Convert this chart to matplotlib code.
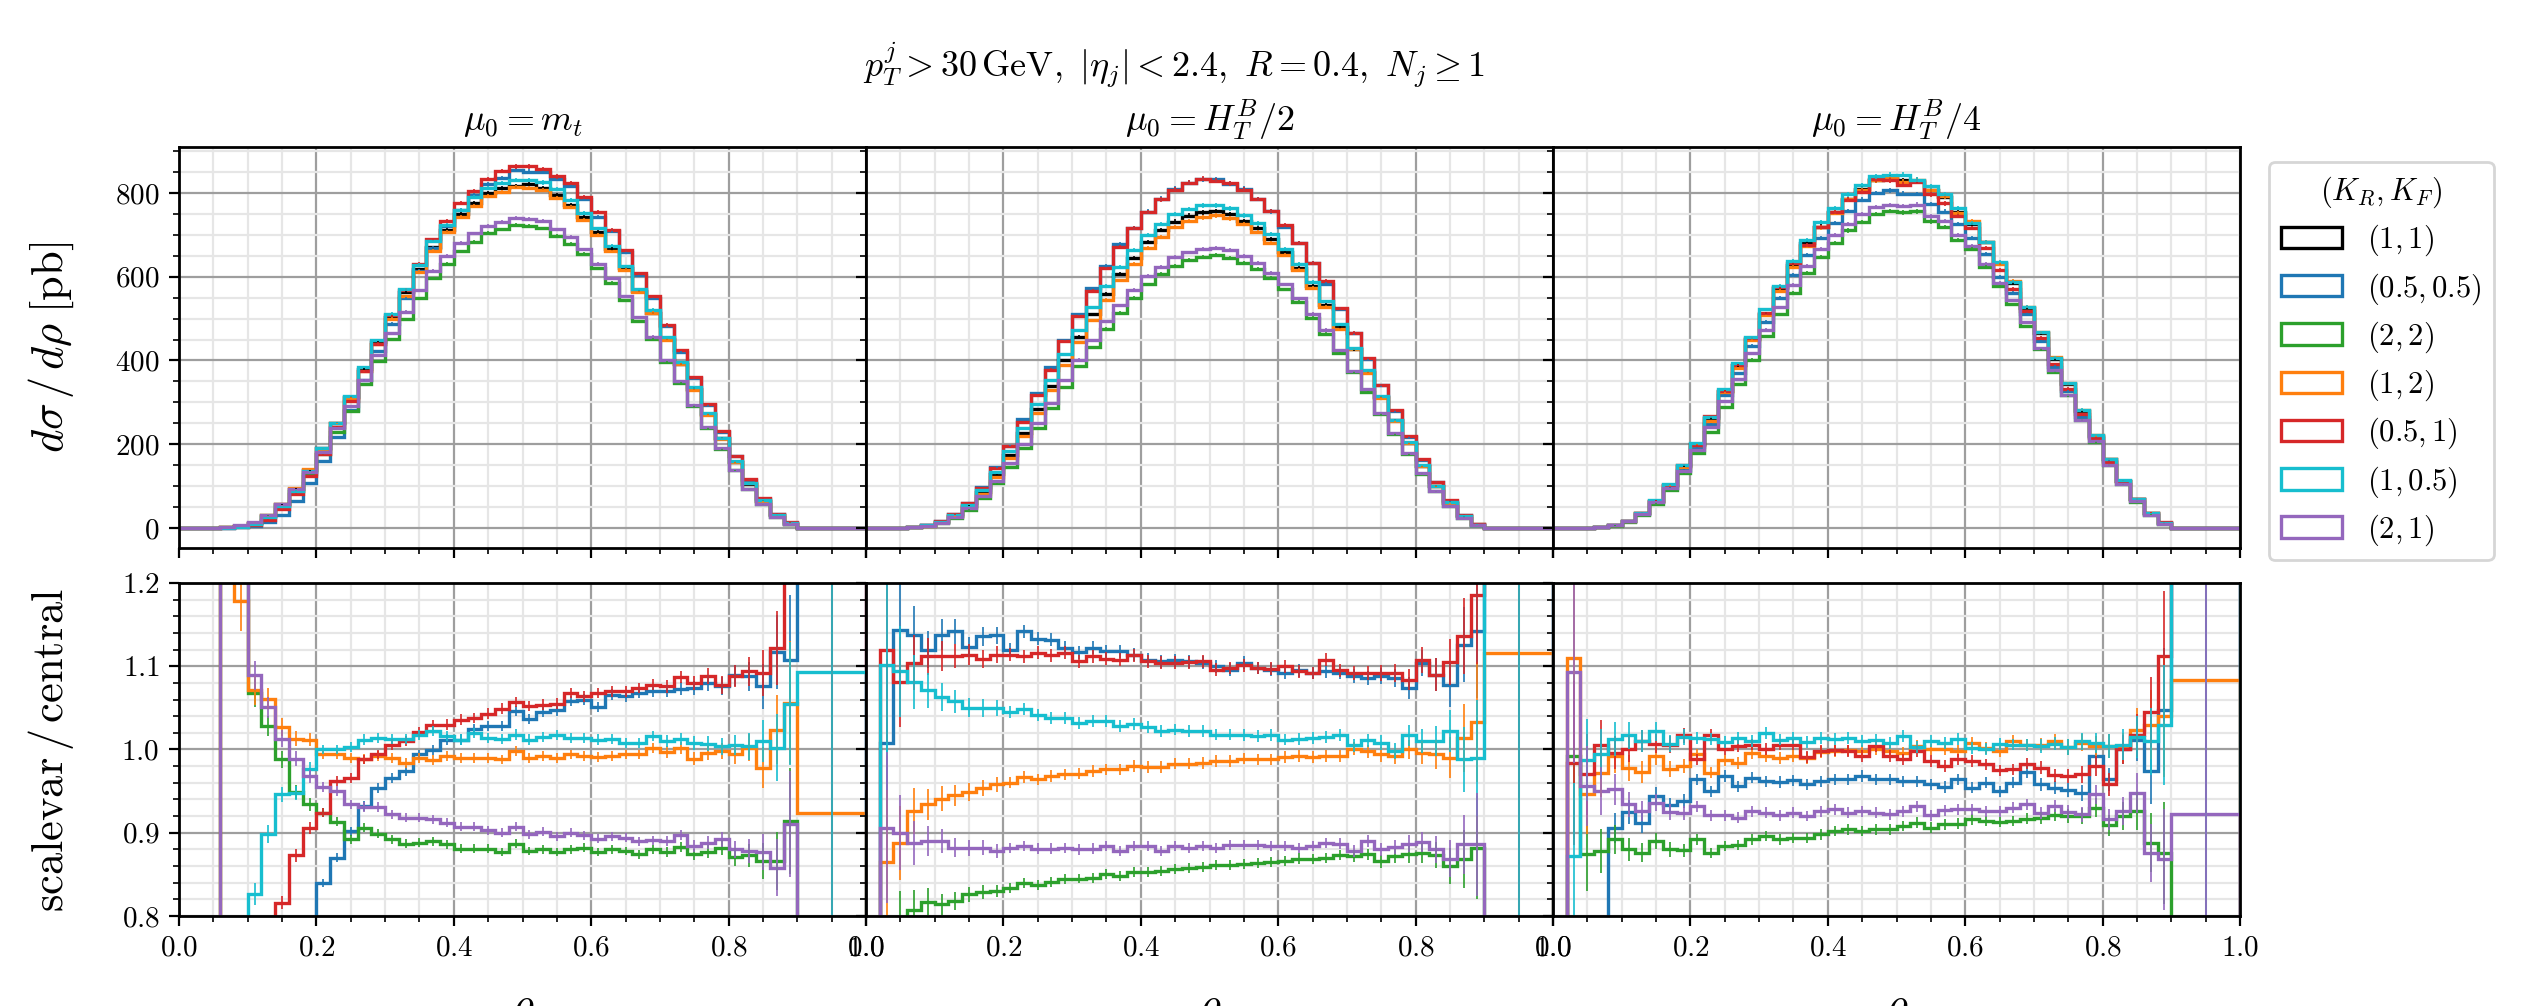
import numpy as np
import matplotlib
matplotlib.use("Agg")
import matplotlib.pyplot as plt
from matplotlib.patches import Patch
from matplotlib.ticker import MultipleLocator

nan = np.nan

# bin edges: 0.02 wide up to 0.9, then one wide last bin
bin_edges = list(np.round(np.arange(0.0, 0.9001, 0.02), 2)) + [1.0]

labels = ["$(1,1)$", "$(0.5,0.5)$", "$(2,2)$", "$(1,2)$", "$(0.5,1)$", "$(1,0.5)$", "$(2,1)$"]
colors = ["black", "#1f77b4", "#2ca02c", "#ff7f0e", "#d62728", "#17becf", "#9467bd"]
titles = [r"$\mu_0 = m_t$", r"$\mu_0 = H_T^B/2$", r"$\mu_0 = H_T^B/4$"]

# central (1,1) prediction, d sigma / d rho [pb]
central_mt = [0, 0, 0, 1.5, 4, 12, 29, 56, 94, 138, 190, 251, 313, 379, 443, 505, 563, 618, 670, 712,
              750, 776, 800, 813, 817, 821, 813, 796, 772, 742, 707, 666, 620, 566, 513, 451, 391, 333,
              272, 214, 158, 106, 65, 30, 10, 0.1]
central_h2 = [0, 0.3, 0.8, 2.4, 6, 14, 29, 53, 86, 128, 175, 227, 285, 340, 400, 457, 510, 559, 606, 644,
              682, 711, 732, 746, 754, 757, 750, 734, 716, 690, 658, 622, 579, 533, 479, 427, 372, 313,
              258, 202, 148, 100, 60, 28, 8, 0.1]
central_h4 = [0, 0.3, 0.8, 2.4, 6.4, 17, 36, 65, 103, 148, 200, 262, 328, 388, 451, 512, 572, 628, 681, 720,
              755, 786, 810, 830, 837, 830, 829, 808, 791, 754, 727, 682, 632, 585, 526, 465, 404, 344,
              280, 220, 165, 113, 68, 35, 12, 0.1]

# scale variation / central, panel mu0 = m_t
blue_mt = [0, 0, 0, 0.2, 0.3, 0.35, 0.45, 0.55, 0.68, 0.78,
           0.840, 0.870, 0.902, 0.932, 0.954, 0.966, 0.974, 0.994, 0.999, 1.012, 1.012, 1.025, 1.028,
           1.028, 1.046, 1.037, 1.045, 1.047, 1.058, 1.060, 1.051, 1.066, 1.064, 1.068, 1.070, 1.070,
           1.073, 1.074, 1.080, 1.076, 1.089, 1.088, 1.076, 1.117, 1.108, 1.3]
green_mt = [0, 0, 0, 1.6, 1.35,
            1.068, 1.028, 0.988, 0.949, 0.934, 0.924, 0.913, 0.892, 0.906, 0.899, 0.892, 0.887, 0.888,
            0.890, 0.886, 0.881, 0.881, 0.881, 0.877, 0.887, 0.878, 0.880, 0.877, 0.880, 0.882, 0.877,
            0.880, 0.878, 0.874, 0.880, 0.877, 0.883, 0.874, 0.877, 0.882, 0.871, 0.873, 0.866, 0.866,
            0.914, 0.0]
orange_mt = [0, 0, 0, 1.4,
             1.178, 1.071, 1.061, 1.027, 1.013, 1.012, 0.994, 0.995, 0.990, 0.989, 0.992, 0.990, 0.984,
             0.990, 0.987, 0.992, 0.990, 0.990, 0.990, 0.988, 0.998, 0.990, 0.992, 0.990, 0.994, 0.992,
             0.991, 0.992, 0.994, 0.994, 1.002, 0.997, 1.002, 0.989, 0.996, 0.998, 0.994, 1.002, 0.978,
             1.024, 1.056, 0.924]
red_mt = [0, 0, 0, 0.4, 0.5, 0.6, 0.69,
          0.816, 0.873, 0.906, 0.924, 0.962, 0.966, 0.988, 0.994, 1.006, 1.010, 1.021, 1.029, 1.030,
          1.036, 1.038, 1.043, 1.049, 1.057, 1.052, 1.054, 1.055, 1.068, 1.064, 1.068, 1.070, 1.070,
          1.074, 1.078, 1.076, 1.087, 1.080, 1.088, 1.077, 1.088, 1.094, 1.092, 1.122, 1.3, 1.3]
cyan_mt = [0, 0, 0, 0.5, 0.7,
           0.826, 0.899, 0.946, 0.948, 0.977, 1.000, 1.000, 1.003, 1.012, 1.014, 1.013, 1.013, 1.017,
           1.022, 1.016, 1.012, 1.020, 1.014, 1.013, 1.018, 1.012, 1.015, 1.017, 1.014, 1.014, 1.012,
           1.013, 1.008, 1.008, 1.016, 1.010, 1.013, 1.008, 1.007, 1.004, 1.005, 1.004, 1.010, 1.002,
           1.055, 1.093]
purple_mt = [0, 0, 0, 1.7, 1.45,
             1.089, 1.051, 1.013, 0.989, 0.968, 0.955, 0.950, 0.934, 0.931, 0.931, 0.922, 0.918, 0.918,
             0.916, 0.912, 0.907, 0.907, 0.903, 0.900, 0.907, 0.898, 0.901, 0.896, 0.900, 0.897, 0.893,
             0.896, 0.894, 0.890, 0.891, 0.890, 0.897, 0.884, 0.888, 0.892, 0.880, 0.878, 0.877, 0.858,
             0.910, 0.0]

# panel mu0 = H_T^B / 2
blue_h2 = [nan, 1.008, 1.144, 1.138, 1.120, 1.138, 1.142, 1.123, 1.136, 1.137, 1.120, 1.142, 1.133,
           1.132, 1.122, 1.117, 1.122, 1.118, 1.118, 1.114, 1.108, 1.106, 1.107, 1.106, 1.104, 1.100,
           1.096, 1.104, 1.098, 1.096, 1.092, 1.095, 1.092, 1.094, 1.092, 1.088, 1.086, 1.088, 1.086,
           1.074, 1.104, 1.090, 1.078, 1.126, 1.142, 1.3]
green_h2 = [nan, 0.7, 0.79, 0.807, 0.817, 0.814, 0.818, 0.826, 0.829, 0.830, 0.834, 0.840, 0.837, 0.841,
            0.844, 0.845, 0.846, 0.851, 0.848, 0.853, 0.853, 0.854, 0.856, 0.858, 0.859, 0.861, 0.861,
            0.863, 0.864, 0.865, 0.866, 0.869, 0.868, 0.870, 0.873, 0.872, 0.874, 0.866, 0.872, 0.874,
            0.876, 0.873, 0.860, 0.868, 0.882, 0.0]
orange_h2 = [nan, 0.865, 0.888, 0.926, 0.934, 0.941, 0.945, 0.949, 0.954, 0.958, 0.960, 0.967, 0.964,
             0.968, 0.970, 0.971, 0.974, 0.976, 0.976, 0.980, 0.979, 0.979, 0.983, 0.983, 0.984, 0.986,
             0.986, 0.989, 0.988, 0.988, 0.991, 0.992, 0.991, 0.992, 0.992, 1.001, 0.998, 0.994, 0.992,
             1.000, 0.996, 0.994, 0.990, 1.014, 1.033, 1.116]
red_h2 = [nan, 1.120, 1.081, 1.104, 1.112, 1.112, 1.112, 1.114, 1.109, 1.114, 1.114, 1.112, 1.116, 1.113,
          1.116, 1.106, 1.112, 1.109, 1.108, 1.113, 1.106, 1.104, 1.104, 1.105, 1.106, 1.096, 1.098,
          1.101, 1.098, 1.097, 1.100, 1.094, 1.092, 1.108, 1.095, 1.092, 1.092, 1.092, 1.092, 1.084,
          1.108, 1.090, 1.105, 1.136, 1.186, 1.3]
cyan_h2 = [nan, 1.102, 1.094, 1.081, 1.071, 1.063, 1.058, 1.050, 1.050, 1.050, 1.045, 1.049, 1.041,
           1.038, 1.038, 1.032, 1.034, 1.034, 1.028, 1.031, 1.027, 1.022, 1.024, 1.022, 1.022, 1.018,
           1.018, 1.017, 1.016, 1.017, 1.012, 1.013, 1.014, 1.015, 1.017, 1.005, 1.011, 1.008, 0.998,
           1.017, 1.010, 1.010, 1.022, 0.988, 0.990, 1.3]
purple_h2 = [nan, 0.906, 0.900, 0.888, 0.890, 0.890, 0.882, 0.882, 0.882, 0.878, 0.882, 0.884, 0.881,
             0.881, 0.882, 0.880, 0.881, 0.884, 0.878, 0.884, 0.884, 0.878, 0.884, 0.882, 0.884, 0.882,
             0.885, 0.885, 0.885, 0.884, 0.884, 0.882, 0.884, 0.888, 0.887, 0.878, 0.890, 0.880, 0.883,
             0.887, 0.889, 0.880, 0.869, 0.886, 0.886, 0.0]

# panel mu0 = H_T^B / 4
blue_h4 = [nan, 0.5, 0.65, 0.75, 0.906, 0.925, 0.912, 0.944, 0.933, 0.938, 0.964, 0.950, 0.968, 0.956,
           0.966, 0.962, 0.961, 0.963, 0.958, 0.962, 0.964, 0.964, 0.968, 0.964, 0.964, 0.962, 0.962,
           0.958, 0.955, 0.964, 0.954, 0.960, 0.950, 0.960, 0.973, 0.958, 0.954, 0.951, 0.948, 0.992,
           0.964, 1.000, 1.012, 0.974, 1.048, 1.3]
green_h4 = [nan, 0.992, 0.874, 0.878, 0.892, 0.880, 0.876, 0.890, 0.880, 0.879, 0.892, 0.876, 0.884,
            0.885, 0.892, 0.896, 0.892, 0.894, 0.894, 0.898, 0.902, 0.904, 0.902, 0.904, 0.904, 0.908,
            0.912, 0.906, 0.910, 0.911, 0.916, 0.914, 0.913, 0.914, 0.917, 0.918, 0.921, 0.920, 0.920,
            0.930, 0.909, 0.920, 0.926, 0.888, 0.876, 0.0]
orange_h4 = [nan, 1.110, 0.946, 0.972, 0.992, 0.978, 0.973, 0.992, 0.977, 0.980, 0.994, 0.972, 0.987,
             0.984, 0.996, 0.992, 0.990, 0.992, 0.990, 0.997, 0.998, 0.999, 0.998, 1.000, 0.998, 0.996,
             1.004, 1.000, 1.001, 0.998, 1.008, 1.002, 0.998, 1.010, 1.005, 1.006, 1.010, 1.003, 1.008,
             1.004, 1.004, 1.002, 1.024, 1.030, 1.040, 1.084]
red_h4 = [nan, 0.984, 0.970, 1.005, 0.996, 1.001, 1.010, 1.007, 1.006, 1.017, 0.988, 1.017, 1.000, 1.004,
          1.006, 1.001, 1.006, 1.006, 0.991, 0.998, 0.999, 0.998, 0.992, 1.004, 0.992, 0.988, 0.998,
          0.986, 0.980, 0.988, 0.986, 0.982, 0.975, 0.976, 0.983, 0.978, 0.969, 0.968, 0.970, 0.980,
          0.958, 1.000, 1.017, 1.045, 1.112, 1.3]
cyan_h4 = [nan, 0.872, 0.987, 0.995, 1.013, 1.017, 1.010, 1.022, 1.007, 1.015, 1.014, 1.013, 1.009,
           1.014, 1.010, 1.020, 1.012, 1.014, 1.009, 1.014, 1.013, 1.014, 1.010, 1.012, 1.008, 1.016,
           1.003, 1.010, 1.008, 1.013, 1.002, 1.001, 1.007, 1.006, 1.005, 1.004, 1.007, 1.003, 1.010,
           1.008, 1.004, 1.006, 1.015, 1.010, 1.030, 1.3]
purple_h4 = [nan, 1.093, 0.956, 0.950, 0.952, 0.934, 0.926, 0.936, 0.925, 0.924, 0.932, 0.921, 0.921,
             0.918, 0.926, 0.924, 0.921, 0.924, 0.920, 0.926, 0.928, 0.924, 0.926, 0.924, 0.922, 0.926,
             0.932, 0.921, 0.927, 0.928, 0.928, 0.926, 0.926, 0.930, 0.934, 0.924, 0.932, 0.925, 0.922,
             0.946, 0.916, 0.926, 0.948, 0.876, 0.868, 0.922]

# rough relative MC uncertainty per bin
err_mt = [0, 0, 0, 0.1, 0.03, 0.016, 0.012, 0.01, 0.009, 0.008] + [0.006] * 25 + \
         [0.007, 0.007, 0.008, 0.009, 0.01, 0.012, 0.016, 0.025, 0.04, 0.07, 0.5]
err_ht = [0, 0.1, 0.05, 0.03, 0.02, 0.016, 0.013, 0.011, 0.01, 0.009] + [0.007] * 25 + \
         [0.008, 0.008, 0.009, 0.01, 0.012, 0.014, 0.018, 0.025, 0.04, 0.07, 0.5]

panels = [
    (central_mt, [blue_mt, green_mt, orange_mt, red_mt, cyan_mt, purple_mt], err_mt),
    (central_h2, [blue_h2, green_h2, orange_h2, red_h2, cyan_h2, purple_h2], err_ht),
    (central_h4, [blue_h4, green_h4, orange_h4, red_h4, cyan_h4, purple_h4], err_ht),
]

plt.rcParams["font.family"] = "serif"
plt.rcParams["font.serif"] = ["cmr10"]
plt.rcParams["mathtext.fontset"] = "cm"
plt.rcParams["axes.formatter.use_mathtext"] = True
plt.rcParams["xtick.labelsize"] = 10.5
plt.rcParams["ytick.labelsize"] = 10.5

W, H = 2544, 1006
fig = plt.figure(figsize=(W / 200, H / 200), dpi=200)

edges = np.array(bin_edges)
centers = 0.5 * (edges[:-1] + edges[1:])
LW = 1.2


def style(ax):
    ax.set_xlim(0, 1)
    ax.xaxis.set_major_locator(MultipleLocator(0.2))
    ax.xaxis.set_minor_locator(MultipleLocator(0.05))
    ax.grid(which="major", color="0.62", lw=0.8)
    ax.grid(which="minor", color="0.9", lw=0.8)
    ax.set_axisbelow(True)
    for s in ax.spines.values():
        s.set_linewidth(1.0)


def draw(ax, vals, col, e):
    ax.stairs(vals, edges, color=col, lw=LW)
    ax.errorbar(centers, vals, yerr=np.abs(vals) * e, fmt="none", ecolor=col, elinewidth=0.6)


top_axes = []
for i, (central, ratios, err) in enumerate(panels):
    x0 = (179 + 687 * i) / W
    ax_t = fig.add_axes([x0, 1 - 548 / H, 687 / W, 401 / H])
    ax_b = fig.add_axes([x0, 1 - 916 / H, 687 / W, 333 / H])
    top_axes.append(ax_t)
    c = np.array(central, dtype=float)
    e = np.array(err, dtype=float)

    draw(ax_t, c, colors[0], e)
    for col, r in zip(colors[1:], ratios):
        r = np.array(r, dtype=float)
        draw(ax_t, c * np.nan_to_num(r), col, e)
        draw(ax_b, r, col, e)

    style(ax_t)
    style(ax_b)
    ax_t.set_ylim(-48, 910)
    ax_t.yaxis.set_major_locator(MultipleLocator(200))
    ax_t.yaxis.set_minor_locator(MultipleLocator(50))
    ax_b.set_ylim(0.8, 1.2)
    ax_b.yaxis.set_major_locator(MultipleLocator(0.1))
    ax_b.yaxis.set_minor_locator(MultipleLocator(0.02))
    ax_t.tick_params(labelbottom=False)
    ax_t.set_title(titles[i], fontsize=13)
    ax_b.set_xlabel(r"$\rho$", fontsize=16)
    ax_b.xaxis.set_label_coords(0.5, -0.22)
    if i == 0:
        ax_t.set_ylabel(r"$d\sigma\,/\,d\rho\;[\mathrm{pb}]$", fontsize=16)
        ax_b.set_ylabel(r"$\mathrm{scalevar}\,/\,\mathrm{central}$", fontsize=16)
        ax_t.yaxis.set_label_coords(-0.15, 0.5)
        ax_b.yaxis.set_label_coords(-0.15, 0.5)
    else:
        ax_t.tick_params(labelleft=False)
        ax_b.tick_params(labelleft=False)

fig.text(1174 / W, 1 - 65 / H,
         r"$p_T^j > 30\,\mathrm{GeV},\ |\eta_j| < 2.4,\ R = 0.4,\ N_j \geq 1$",
         ha="center", va="center", fontsize=13)

handles = [Patch(facecolor="none", edgecolor=col, lw=1.2) for col in colors]
top_axes[-1].legend(handles, labels, title=r"$(K_R,K_F)$", loc="upper left",
                    bbox_to_anchor=(1.02, 1.0), fontsize=11, title_fontsize=11,
                    labelspacing=0.42)

fig.savefig("out.png", dpi=200)
